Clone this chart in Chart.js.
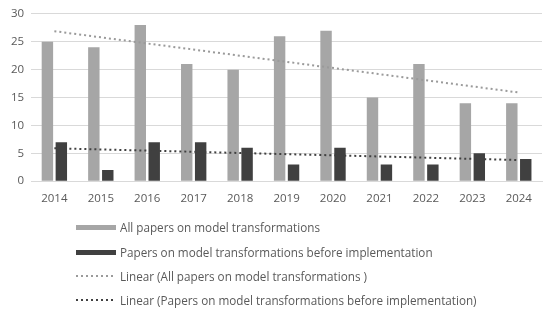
<!DOCTYPE html>
<html>
<head>
<meta charset="utf-8">
<script src="https://cdn.jsdelivr.net/npm/chart.js@4"></script>
<style>
  body { margin: 0; background: #fff; font-family: "Open Sans", sans-serif; }
  #wrap { position: relative; width: 550px; height: 209px; }
  #legend { margin: 6px 0 0 76px; padding: 0; list-style: none; }
  #legend li { height: 24.4px; display: flex; align-items: center; font-size: 11.7px; color: #595959; }
  #legend .mark { width: 40px; margin-right: 4px; }
</style>
</head>
<body>
<div id="wrap"><canvas id="chart"></canvas></div>
<ul id="legend"></ul>
<script>
const years = ['2014','2015','2016','2017','2018','2019','2020','2021','2022','2023','2024'];
const allPapers = [25, 24, 28, 21, 20, 26, 27, 15, 21, 14, 14];
const beforeImpl = [7, 2, 7, 7, 6, 3, 6, 3, 3, 5, 4];
// trend line end points (first and last year)
const trendAll = [26.9, null, null, null, null, null, null, null, null, null, 15.9];
const trendBefore = [5.9, null, null, null, null, null, null, null, null, null, 3.8];
const yTicks = [0, 5, 10, 15, 20, 25, 30];

const names = [
    'All papers on model transformations',
    'Papers on model transformations before implementation',
    'Linear (All papers on model transformations )',
    'Linear (Papers on model transformations before implementation)'
];
const lightGray = '#a6a6a6';
const darkGray = '#404040';

const ctx = document.getElementById('chart').getContext('2d');
const chart = new Chart(ctx, {
    data: {
        labels: years,
        datasets: [
            { type: 'bar', label: names[0], data: allPapers, backgroundColor: lightGray, order: 2,
              barPercentage: 0.82, categoryPercentage: 0.6 },
            { type: 'bar', label: names[1], data: beforeImpl, backgroundColor: darkGray, order: 2,
              barPercentage: 0.82, categoryPercentage: 0.6 },
            { type: 'line', label: names[2], data: trendAll, borderColor: '#9a9a9a', borderWidth: 2,
              borderDash: [2, 3], pointRadius: 0, spanGaps: true, order: 0 },
            { type: 'line', label: names[3], data: trendBefore, borderColor: darkGray, borderWidth: 2,
              borderDash: [2, 3], pointRadius: 0, spanGaps: true, order: 0 }
        ]
    },
    options: {
        responsive: true,
        maintainAspectRatio: false,
        animation: false,
        layout: { padding: { top: 6, right: 8, left: 4, bottom: 0 } },
        plugins: { legend: { display: false }, tooltip: { enabled: false } },
        scales: {
            x: {
                grid: { display: false },
                border: { color: '#d9d9d9' },
                ticks: { color: '#595959', font: { family: 'Open Sans', size: 11.5 }, padding: 3, maxRotation: 0 }
            },
            y: {
                min: yTicks[0],
                max: yTicks[yTicks.length - 1],
                grid: { color: '#d9d9d9', drawTicks: false },
                border: { display: false },
                afterBuildTicks: (axis) => { axis.ticks = yTicks.map(v => ({ value: v })); },
                ticks: { color: '#595959', font: { family: 'Open Sans', size: 11.5 }, padding: 7 }
            }
        }
    }
});

// legend: one entry per row, like the original
const legendEl = document.getElementById('legend');
chart.data.datasets.forEach((ds) => {
    const li = document.createElement('li');
    const mark = document.createElement('canvas');
    mark.className = 'mark';
    mark.width = 40;
    mark.height = 10;
    const c = mark.getContext('2d');
    if (ds.type === 'bar') {
        c.fillStyle = ds.backgroundColor;
        c.fillRect(0, 3, 40, 5);
    } else {
        c.fillStyle = ds.borderColor;
        for (let x = 0; x < 40; x += 5) c.fillRect(x, 4, 2, 2);
    }
    li.appendChild(mark);
    li.appendChild(document.createTextNode(ds.label));
    legendEl.appendChild(li);
});
</script>
</body>
</html>
